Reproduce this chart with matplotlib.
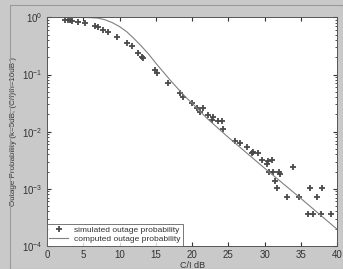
import numpy as np
import matplotlib
matplotlib.use('Agg')
import matplotlib.pyplot as plt
from matplotlib.patches import Rectangle

# simulated outage probability (C/I dB, log10 P)
sim_x = [2.5, 2.9, 3.2, 3.5, 4.3, 5.2, 6.6, 7.0, 7.7, 8.4, 9.7, 11.0, 11.7, 12.5, 13.1, 13.2,
         14.9, 15.2, 16.7, 18.3, 18.8, 20.0, 20.7, 21.1, 21.5, 22.2, 22.8, 22.9, 23.6, 24.1, 24.3,
         25.9, 26.6, 27.6, 28.3, 28.4, 29.1, 29.7, 30.3, 30.5, 30.6, 31.0, 31.2, 31.4, 31.7,
         32.0, 32.1, 33.1, 33.9, 34.8, 36.3, 37.2, 37.9, 36.0, 36.7, 37.8, 39.2]
sim_logp = [-0.044, -0.044, -0.05, -0.06, -0.073, -0.096, -0.148, -0.166, -0.218, -0.253, -0.34,
            -0.445, -0.497, -0.62, -0.69, -0.707, -0.916, -0.969, -1.14, -1.32, -1.39, -1.49,
            -1.58, -1.65, -1.58, -1.70, -1.79, -1.74, -1.82, -1.82, -1.96, -2.17, -2.19, -2.26,
            -2.37, -2.35, -2.37, -2.49, -2.57, -2.52, -2.70, -2.49, -2.70, -2.87, -2.98, -2.70,
            -2.75, -3.15, -2.61, -3.15, -2.98, -3.15, -2.98, -3.45, -3.45, -3.45, -3.45]

# computed outage probability
comp_x = [2, 5, 6, 7, 8, 9, 10, 11, 12, 13, 14, 15, 16, 17, 18, 19, 20, 22, 25, 30, 35, 40]
comp_logp = [0, 0, -0.003, -0.01, -0.04, -0.09, -0.16, -0.25, -0.37, -0.5, -0.64, -0.8,
             -0.95, -1.1, -1.24, -1.38, -1.5, -1.76, -2.1, -2.64, -3.17, -3.71]

sim_p = 10 ** np.array(sim_logp)
comp_p = 10 ** np.array(comp_logp)

plt.rcParams['font.family'] = ['Liberation Sans', 'DejaVu Sans']

fig = plt.figure(figsize=(3.43, 2.69), dpi=100, facecolor='#c9c9c9')
fig.patches.append(Rectangle((0.03, 0.0), 0.97, 0.98, transform=fig.transFigure,
                             fill=False, edgecolor='#9a9a9a', lw=0.8))
ax = fig.add_axes([0.137, 0.086, 0.846, 0.849])
ax.set_facecolor('white')

ax.semilogy(sim_x, sim_p, '+', color='#4a4a4a', ms=4.5, mew=1.3, label='simulated outage probability')
ax.semilogy(comp_x, comp_p, '-', color='#808080', lw=0.8, label='computed outage probability')

ax.set_xlim(0, 40)
ax.set_ylim(1e-4, 1)
ax.set_xticks([0, 5, 10, 15, 20, 25, 30, 35, 40])
ax.tick_params(which='both', direction='in', top=True, right=True, labelsize=7,
               colors='#333333', pad=3)
ax.tick_params(which='major', length=3)
ax.tick_params(which='minor', length=1.5)
for s in ax.spines.values():
    s.set_color('#555555')
    s.set_linewidth(0.7)

ax.set_xlabel('C/I dB', fontsize=6.5, color='#333333', labelpad=1)
ax.set_ylabel('Outage Probability (k=5dB, (C/I)th=10dB )', fontsize=5.8, color='#333333', labelpad=4)

leg = ax.legend(loc='lower left', fontsize=6, frameon=True, fancybox=False, borderaxespad=0,
                handlelength=2.2, borderpad=0.3, labelspacing=0.2)
leg.get_frame().set_edgecolor('#555555')
leg.get_frame().set_linewidth(0.7)
for t in leg.get_texts():
    t.set_color('#333333')

fig.savefig('out.png', dpi=100, facecolor=fig.get_facecolor())
